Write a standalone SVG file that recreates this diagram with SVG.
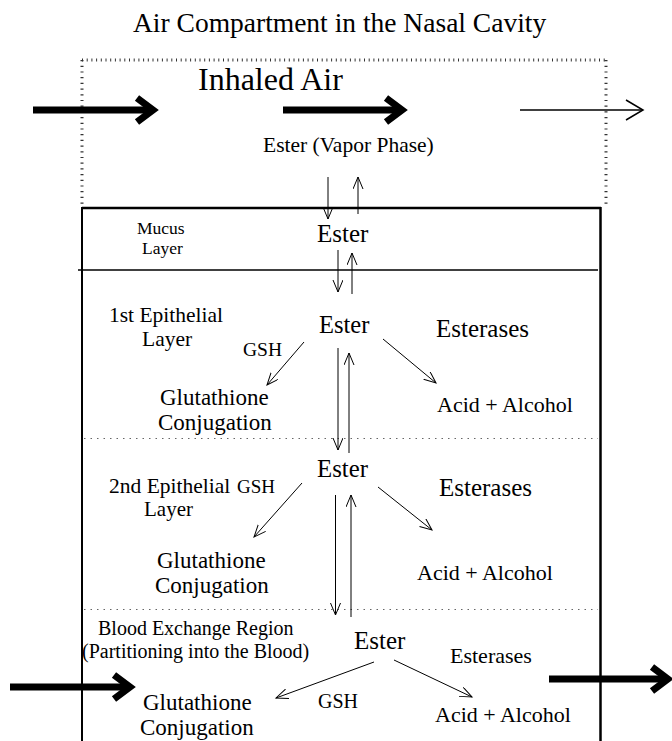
<svg xmlns="http://www.w3.org/2000/svg" width="672" height="741" viewBox="0 0 672 741">
<defs>
<style>
.t{font-family:"Liberation Serif","Times New Roman",serif;fill:#000}
.thin{stroke:#000;stroke-width:1;fill:none;marker-end:url(#open)}
.big{stroke:#000;stroke-width:7;fill:none}
.dot{stroke:#666;stroke-width:1;stroke-dasharray:1.5 5;fill:none}
</style>
<marker id="open" markerWidth="14" markerHeight="12" refX="12" refY="5" orient="auto" markerUnits="userSpaceOnUse">
<path d="M0,0 L12,5 L0,10" fill="none" stroke="#000" stroke-width="1"/>
</marker>
</defs>
<rect width="672" height="741" fill="#fff"/>

<g id="title"><text class="t" x="133" y="32" font-size="27.5">Air Compartment in the Nasal Cavity</text></g>

<g id="air-compartment">
<path d="M82,60 H606" stroke="#333" stroke-width="3" stroke-dasharray="1 3.7" fill="none"/>
<path d="M82,60 V208 M606,60 V208" stroke="#333" stroke-width="3" stroke-dasharray="1.2 4.5" fill="none"/>
<text class="t" x="198" y="90" font-size="32">Inhaled Air</text>
<text class="t" x="263" y="152" font-size="21.5">Ester (Vapor Phase)</text>
</g>

<g id="tissue-box">
<path d="M82,208 H601" stroke="#000" stroke-width="2.5" fill="none"/>
<path d="M82,207 V741" stroke="#000" stroke-width="2" fill="none"/>
<path d="M600.5,207 V741" stroke="#000" stroke-width="2.5" fill="none"/>
<path d="M78,270 H598" stroke="#000" stroke-width="1.3" fill="none"/>
<path class="dot" d="M84,438.5 H598"/>
<path class="dot" d="M84,609.5 H598"/>
</g>

<g id="mucus-layer">
<text class="t" x="137" y="234" font-size="17.5">Mucus</text>
<text class="t" x="142" y="254" font-size="17.5">Layer</text>
<text class="t" x="317" y="242" font-size="25">Ester</text>
</g>

<g id="epithelial-1">
<text class="t" x="109" y="322" font-size="21.5">1st Epithelial</text>
<text class="t" x="142" y="346" font-size="21.5">Layer</text>
<text class="t" x="319" y="333" font-size="24.5">Ester</text>
<text class="t" x="436" y="337" font-size="25">Esterases</text>
<text class="t" x="243" y="356" font-size="19.5">GSH</text>
<text class="t" x="160" y="405" font-size="23">Glutathione</text>
<text class="t" x="158" y="430" font-size="23">Conjugation</text>
<text class="t" x="437" y="412" font-size="22">Acid + Alcohol</text>
</g>

<g id="epithelial-2">
<text class="t" x="109" y="493" font-size="21.5">2nd Epithelial</text>
<text class="t" x="237" y="493" font-size="19">GSH</text>
<text class="t" x="144" y="516" font-size="21">Layer</text>
<text class="t" x="317" y="477" font-size="24.8">Ester</text>
<text class="t" x="439" y="496" font-size="25">Esterases</text>
<text class="t" x="157" y="568" font-size="23">Glutathione</text>
<text class="t" x="155" y="593" font-size="23">Conjugation</text>
<text class="t" x="417" y="580" font-size="22">Acid + Alcohol</text>
</g>

<g id="blood-exchange">
<text class="t" x="98" y="635" font-size="20">Blood Exchange Region</text>
<text class="t" x="82" y="658" font-size="20">(Partitioning into the Blood)</text>
<text class="t" x="354" y="649" font-size="25">Ester</text>
<text class="t" x="450" y="663" font-size="22">Esterases</text>
<text class="t" x="318" y="708" font-size="20">GSH</text>
<text class="t" x="143" y="710" font-size="23">Glutathione</text>
<text class="t" x="140" y="735" font-size="23">Conjugation</text>
<text class="t" x="435" y="722" font-size="22">Acid + Alcohol</text>
</g>

<g id="connectors">
<path class="big" d="M33,110 H150"/>
<path class="big" d="M137,98 L153,110 L137,122"/>
<path class="big" d="M283,110 H398"/>
<path class="big" d="M386,98 L402,110 L386,122"/>
<path d="M520,110 H642" stroke="#000" stroke-width="1.5" fill="none"/>
<path d="M626,100 L643,110 L626,120" stroke="#000" stroke-width="1.5" fill="none"/>
<path class="big" d="M10,687 H127"/>
<path class="big" d="M114,675 L130,687 L114,699"/>
<path class="big" d="M549,679 H664"/>
<path class="big" d="M652,667 L668,679 L652,691"/>
<path class="thin" d="M328,177 V219"/>
<path class="thin" d="M358,214 V177"/>
<path class="thin" d="M338,250 V292"/>
<path class="thin" d="M352,294 V253"/>
<path class="thin" d="M338,348 V450"/>
<path class="thin" d="M349,453 V353"/>
<path class="thin" d="M335.5,495 V615"/>
<path class="thin" d="M351,617 V495"/>
<path class="thin" d="M304,342 L267,385"/>
<path class="thin" d="M383,339 L436,383"/>
<path class="thin" d="M302,483 L254,537"/>
<path class="thin" d="M378,487 L432,530"/>
<path class="thin" d="M374,662 L276,698"/>
<path class="thin" d="M394,660 L472,697"/>
</g>
</svg>
